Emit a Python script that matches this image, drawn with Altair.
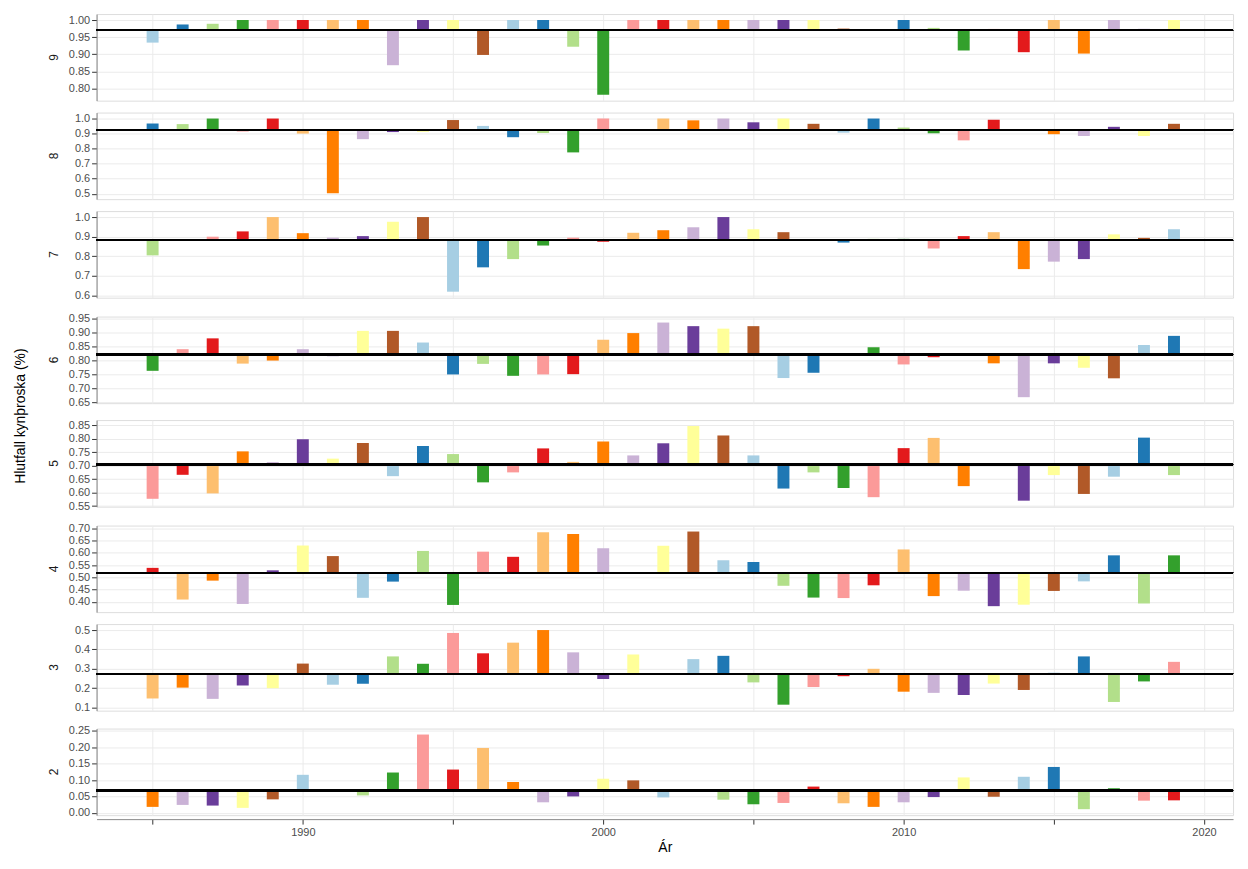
import altair as alt
import pandas as pd

years = list(range(1985, 2020))
ages = [9, 8, 7, 6, 5, 4, 3, 2]
means = [0.970, 0.925, 0.882, 0.822, 0.704, 0.519, 0.274, 0.068]

age9 = [0.934, 0.987, 0.989, 1.0, 1.0, 1.0, 1.0, 1.0, 0.868, 1.0, 1.0, 0.898, 1.0, 1.0, 0.922, 0.782,
        1.0, 1.0, 1.0, 1.0, 1.0, 1.0, 1.0, 0.975, 0.968, 1.0, 0.977, 0.911, 0.974, 0.906, 1.0, 0.902,
        1.0, 0.974, 1.0]
age8 = [0.967, 0.963, 1.0, 0.914, 1.0, 0.90, 0.504, 0.863, 0.91, 0.912, 0.99, 0.951, 0.876, 0.904,
        0.775, 1.0, 0.918, 1.0, 0.988, 1.0, 0.975, 1.0, 0.965, 0.906, 1.0, 0.94, 0.902, 0.855, 0.992,
        0.922, 0.896, 0.884, 0.945, 0.884, 0.965]
age7 = [0.805, 0.882, 0.90, 0.927, 1.0, 0.918, 0.895, 0.903, 0.976, 1.0, 0.62, 0.744, 0.786, 0.855,
        0.895, 0.874, 0.92, 0.933, 0.948, 1.0, 0.938, 0.923, 0.882, 0.87, 0.889, 0.889, 0.84, 0.903,
        0.923, 0.735, 0.773, 0.786, 0.912, 0.894, 0.938]
age6 = [0.763, 0.841, 0.88, 0.789, 0.80, 0.841, 0.816, 0.907, 0.907, 0.865, 0.75, 0.788, 0.745, 0.75,
        0.751, 0.875, 0.899, 0.937, 0.924, 0.915, 0.924, 0.737, 0.756, 0.825, 0.848, 0.786, 0.812,
        0.82, 0.79, 0.668, 0.79, 0.774, 0.736, 0.856, 0.889]
age5 = [0.577, 0.666, 0.597, 0.753, 0.713, 0.798, 0.726, 0.784, 0.661, 0.773, 0.743, 0.638, 0.675,
        0.764, 0.714, 0.79, 0.738, 0.783, 0.847, 0.812, 0.738, 0.615, 0.675, 0.617, 0.583, 0.765,
        0.803, 0.624, 0.70, 0.57, 0.665, 0.595, 0.659, 0.804, 0.665]
age4 = [0.539, 0.41, 0.487, 0.392, 0.529, 0.63, 0.587, 0.417, 0.483, 0.608, 0.388, 0.605, 0.584,
        0.684, 0.677, 0.619, 0.515, 0.629, 0.687, 0.57, 0.563, 0.466, 0.418, 0.416, 0.468, 0.614,
        0.424, 0.446, 0.383, 0.389, 0.445, 0.484, 0.59, 0.394, 0.59]
age3 = [0.147, 0.203, 0.145, 0.214, 0.20, 0.327, 0.218, 0.223, 0.364, 0.326, 0.485, 0.38, 0.435, 0.5,
        0.385, 0.247, 0.374, 0.277, 0.35, 0.367, 0.23, 0.115, 0.206, 0.262, 0.30, 0.182, 0.176, 0.165,
        0.224, 0.191, 0.28, 0.364, 0.129, 0.235, 0.336]
age2 = [0.018, 0.024, 0.022, 0.015, 0.041, 0.116, 0.068, 0.053, 0.123, 0.239, 0.132, 0.198, 0.094,
        0.032, 0.05, 0.104, 0.099, 0.047, 0.064, 0.04, 0.026, 0.03, 0.08, 0.029, 0.018, 0.032, 0.048,
        0.108, 0.049, 0.11, 0.14, 0.011, 0.075, 0.037, 0.038]

paired = ["#a6cee3", "#1f78b4", "#b2df8a", "#33a02c", "#fb9a99", "#e31a1c",
          "#fdbf6f", "#ff7f00", "#cab2d6", "#6a3d9a", "#ffff99", "#b15928"]

rows = []
for age, m, vals in zip(ages, means, [age9, age8, age7, age6, age5, age4, age3, age2]):
    for yr, v in zip(years, vals):
        rows.append({"ar": yr, "aldur": age, "hlutfall": v, "medal": m,
                     "argangur": (yr - age - 1985 + 9) % 12})
df = pd.DataFrame(rows)

xsc = alt.Scale(domain=[1983.3, 2020.8], nice=False)
ysc = alt.Scale(zero=False, nice=False, padding=6)

bars = alt.Chart().mark_bar(size=12).encode(
    x=alt.X("ar:Q", scale=xsc, title="Ár",
            axis=alt.Axis(values=list(range(1985, 2021, 5)), format="d",
                          labelExpr="datum.value % 10 == 0 ? datum.label : ''",
                          gridColor="#ebebeb", tickColor="#333", labelColor="#4d4d4d",
                          labelFontSize=11, titleFontSize=14, titleFontWeight=400)),
    y=alt.Y("hlutfall:Q", scale=ysc, title=None,
            axis=alt.Axis(tickCount=5, gridColor="#ebebeb", tickColor="#333",
                          labelColor="#4d4d4d", labelFontSize=11)),
    y2="medal:Q",
    color=alt.Color("argangur:N", scale=alt.Scale(domain=list(range(12)), range=paired),
                    legend=None),
)
rule = alt.Chart().mark_rule(color="black", strokeWidth=1.5).encode(y="medal:Q")

chart = alt.layer(bars, rule, data=df).properties(width=1142, height=87).facet(
    row=alt.Row("aldur:O", sort="descending",
                header=alt.Header(title="Hlutfall kynþroska (%)", titleOrient="left",
                                  titleFontSize=14, titleFontWeight="normal",
                                  labelOrient="left", labelAngle=-90, labelFontSize=12,
                                  labelColor="#1a1a1a", labelPadding=2)),
    spacing=10
).resolve_scale(y="independent").configure_view(
    stroke="#7f7f7f"
).configure_axisX(
    titleFontWeight=400, titleColor="#000"
).configure(font="Liberation Sans", padding={"left": 5, "top": 3, "right": 5, "bottom": 5})

chart.save("out.html", embed_options={"renderer": "svg", "actions": False})
